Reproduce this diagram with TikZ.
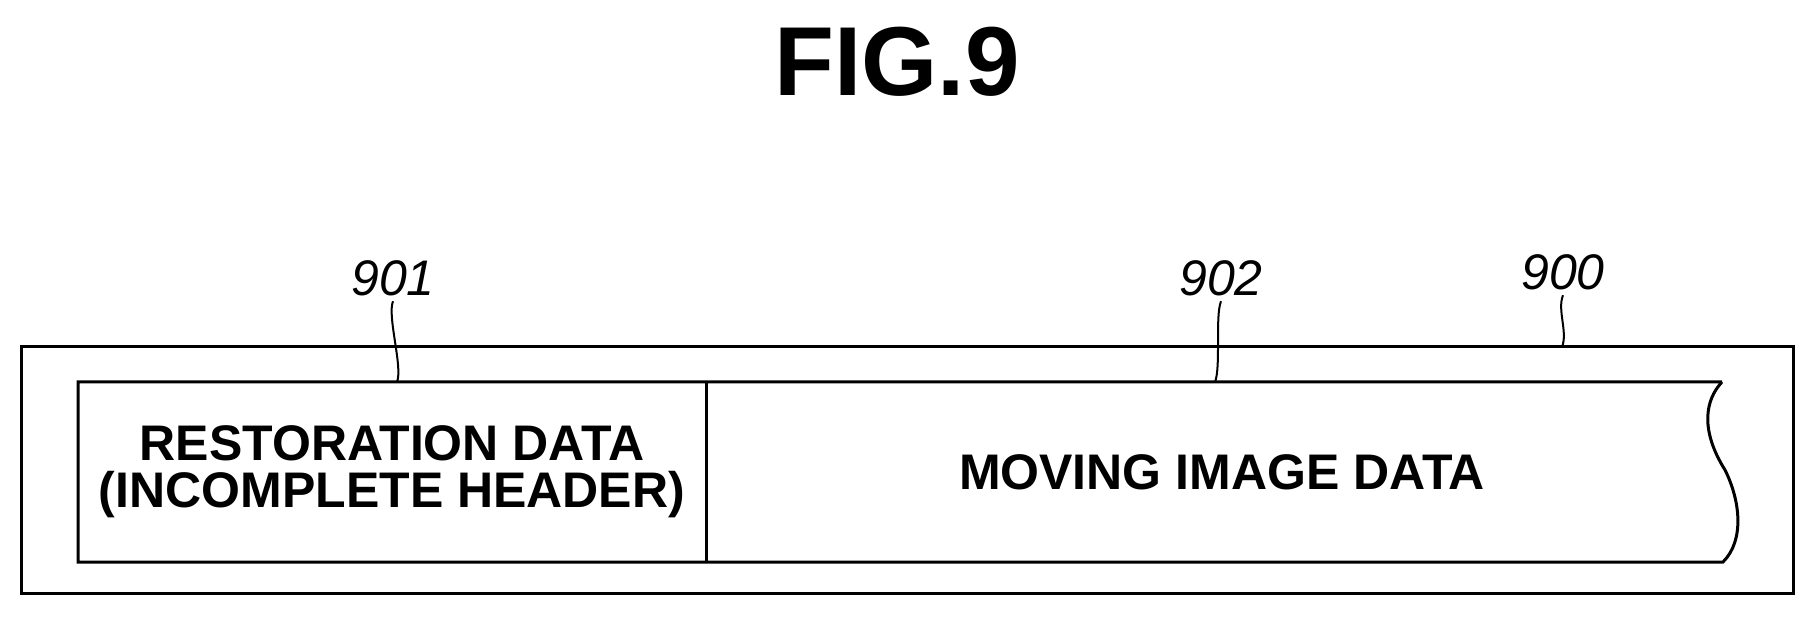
\documentclass[tikz,border=0pt]{standalone}
\usepackage{fontspec}
\setmainfont{Liberation Sans}
\begin{document}
\begin{tikzpicture}[x=1pt,y=-1pt,
  box/.style={line width=3pt},
  lbl/.style={font=\fontsize{50}{50}\selectfont\itshape},
  txt/.style={font=\fontsize{50}{47}\selectfont\bfseries},
  lead/.style={line width=2pt}]
\useasboundingbox (0,0) rectangle (1815,617);
\node[font=\fontsize{98}{98}\selectfont\bfseries] (title) at (897,62) {FIG.9};
\draw[box] (21,347) rectangle (1793,593);
\coordinate (outtop) at (1562,347);
\draw[box] (1722,382) -- (78,382) -- (78,562) -- (1723,562)
  .. controls (1745,540) and (1740,500) .. (1725,470)
  .. controls (1700,430) and (1705,400) .. (1722,382);
\draw[box] (706,382) -- (706,562);
\coordinate (in1) at (397,382);
\coordinate (in2) at (1215,382);
\node[txt,align=center] (rest) at (392,472) {RESTORATION DATA\\(INCOMPLETE HEADER)};
\node[txt] (mov) at (1222,472) {MOVING IMAGE DATA};
\node[lbl] (l901) at (393,278) {901};
\node[lbl] (l902) at (1221,278) {902};
\node[lbl] (l900) at (1563,272) {900};
\draw[lead] (l901.south) ++(0,2) .. controls +(-6,15) and +(6,-15) .. (in1);
\draw[lead] (l902.south) ++(0,2) .. controls +(-6,15) and +(6,-15) .. (in2);
\draw[lead] (l900.south) ++(0,2) .. controls +(-6,15) and +(6,-15) .. (outtop);
\end{tikzpicture}
\end{document}
